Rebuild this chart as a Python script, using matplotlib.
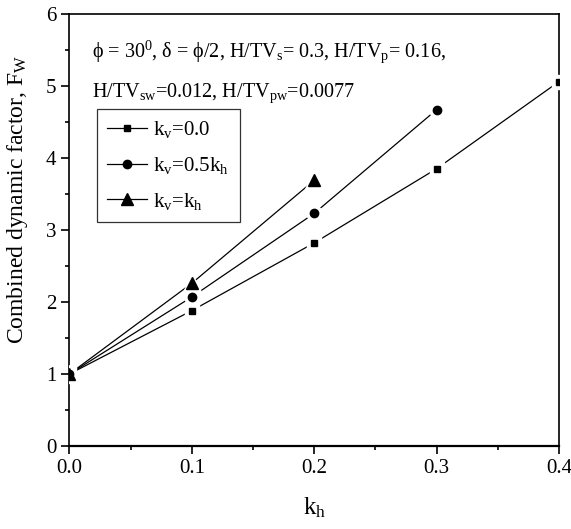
import matplotlib
matplotlib.use("Agg")
import matplotlib.pyplot as plt
from matplotlib.ticker import MultipleLocator, FormatStrFormatter

plt.rcParams['font.family'] = ['Liberation Serif', 'DejaVu Serif']
plt.rcParams['mathtext.fontset'] = 'custom'
plt.rcParams['mathtext.rm'] = 'Liberation Serif'
plt.rcParams['mathtext.it'] = 'Liberation Serif:italic'

kh_sq = [0.0, 0.1, 0.2, 0.3, 0.4]
fw_sq = [1.0, 1.88, 2.82, 3.85, 5.06]
kh_ci = [0.0, 0.1, 0.2, 0.3]
fw_ci = [1.0, 2.07, 3.23, 4.67]
kh_tr = [0.0, 0.1, 0.2]
fw_tr = [1.0, 2.26, 3.69]
labels = [r'k$_{\mathrm{v}}$=0.0', r'k$_{\mathrm{v}}$=0.5k$_{\mathrm{h}}$', r'k$_{\mathrm{v}}$=k$_{\mathrm{h}}$']

fig = plt.figure(figsize=(5.71, 5.29), dpi=100)
ax = fig.add_axes([0.1217, 0.157, 0.857, 0.8165])

series = [(kh_sq, fw_sq, 's', 5), (kh_ci, fw_ci, 'o', 6), (kh_tr, fw_tr, '^', 8)]
for (x, y, m, ms), lab in zip(series, labels):
    ax.plot(x, y, color='black', lw=0.9, zorder=2)
    ax.plot(x, y, ls='none', marker=m, ms=ms + 5, color='white', zorder=3)
    ax.plot(x, y, ls='none', marker=m, ms=ms, color='black', zorder=4)
    ax.plot([], [], color='black', lw=0.9, marker=m, ms=ms, label=lab)

ax.set_xlim(0, 0.4)
ax.set_ylim(0, 6)
ax.xaxis.set_major_locator(MultipleLocator(0.1))
ax.xaxis.set_minor_locator(MultipleLocator(0.05))
ax.yaxis.set_major_locator(MultipleLocator(1))
ax.yaxis.set_minor_locator(MultipleLocator(0.5))
ax.xaxis.set_major_formatter(FormatStrFormatter('%.1f'))
ax.tick_params(which='major', direction='out', length=6, width=1.2, labelsize=15)
ax.tick_params(which='minor', direction='out', length=3, width=1.2)
for s in ax.spines.values():
    s.set_linewidth(1.2)
ax.spines['bottom'].set_linewidth(1.6)

ax.set_xlabel(r'k$_{\mathrm{h}}$', fontsize=18)
ax.xaxis.set_label_coords(0.5, -0.115)
ax.set_ylabel(r'Combined dynamic factor, F$_{\mathrm{W}}$', fontsize=17)
ax.yaxis.set_label_coords(-0.08, 0.57)

ax.text(0.046, 0.900, r'ϕ = 30$^{0}$, δ = ϕ/2, H/TV$_{\mathrm{s}}$= 0.3, H/TV$_{\mathrm{p}}$= 0.16,',
        transform=ax.transAxes, fontsize=14.5, va='baseline', ha='left')
ax.text(0.046, 0.808, r'H/TV$_{\mathrm{sw}}$=0.012, H/TV$_{\mathrm{pw}}$=0.0077',
        transform=ax.transAxes, fontsize=14.5, va='baseline', ha='left')

leg = ax.legend(loc='upper left', bbox_to_anchor=(0.056, 0.78), fontsize=15,
                frameon=True, fancybox=False, edgecolor='black', borderpad=0.5,
                handlelength=1.9, handletextpad=0.3, labelspacing=0.7, borderaxespad=0)
leg.get_frame().set_linewidth(0.9)

fig.savefig('out.png', dpi=100)
